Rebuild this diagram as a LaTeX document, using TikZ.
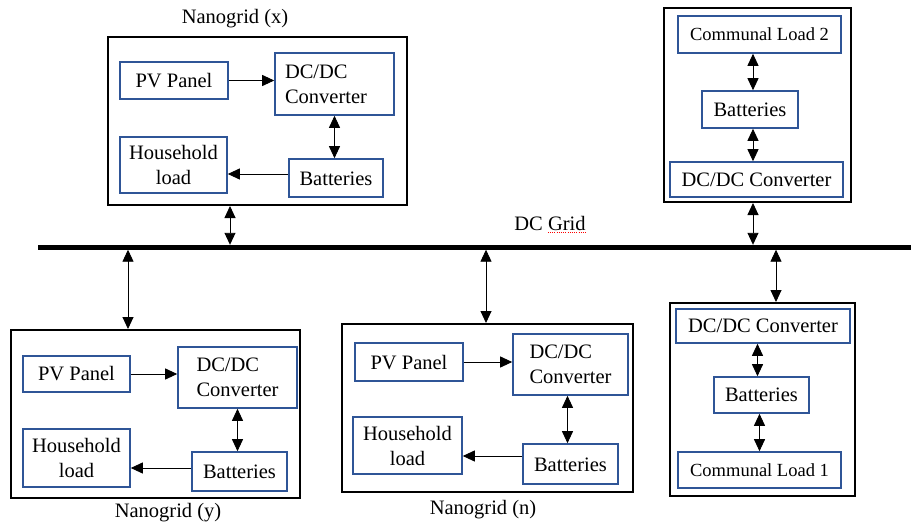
\documentclass[tikz,border=0pt]{standalone}
\usepackage{fontspec}
\setmainfont{Liberation Serif}
\usetikzlibrary{arrows.meta,fit}
\definecolor{boxblue}{RGB}{47,85,151}
% \ubox[options]{name}{x1}{y1}{x2}{y2}{text}: a blue component box spanning two corners
\newcommand\ubox[7][]{%
  \pgfmathsetmacro\ubcx{(#3+#5)/2}\pgfmathsetmacro\ubcy{(#4+#6)/2}%
  \pgfmathsetmacro\ubw{#5-#3}\pgfmathsetmacro\ubh{#6-#4}%
  \node[unit, minimum width=\ubw pt, minimum height=\ubh pt, #1] (#2) at (\ubcx,\ubcy) {#7};}
\begin{document}
\begin{tikzpicture}[x=1pt,y=-1pt,
  txt/.style={font=\fontsize{20.5}{25}\selectfont},
  smalltxt/.style={font=\fontsize{18.5}{22}\selectfont},
  label/.style={txt, inner sep=0pt},
  unit/.style={draw=boxblue, line width=1.6pt, inner sep=0pt, align=center, txt},
  lowtext/.style={text height=20pt, text depth=5pt},
  frame/.style={draw=black, line width=2pt, inner sep=0pt},
  flow/.style={-{Triangle[length=12pt,width=11pt]}, line width=0.9pt},
  both/.style={{Triangle[length=12pt,width=11pt]}-{Triangle[length=12pt,width=11pt]}, line width=0.9pt},
  spellmark/.style={draw=red, line width=0.8pt, dash pattern=on 1pt off 1.2pt},
]
\useasboundingbox (0,0) rectangle (911,527);

% outer frames
\node[frame, fit={(108,37)(407,205)}] (ngx) {};
\node[frame, fit={(11,330)(300,498)}] (ngy) {};
\node[frame, fit={(342,324)(633,492)}] (ngn) {};
\node[frame, fit={(664,8)(851,202)}] (cl2f) {};
\node[frame, fit={(670,303)(855,496)}] (cl1f) {};

% frame titles
\node[label] (lx) at (235,19) {Nanogrid (x)};
\node[label] (ly) at (168,513) {Nanogrid (y)};
\node[label] (ln) at (483,510) {Nanogrid (n)};

% DC bus
\node[fill=black, inner sep=0pt, fit={(38,245)(911,249.5)}] (grid) {};
\node[label] (dcg) at (550,223) {DC Grid};
\draw[spellmark] ([xshift=-38pt,yshift=-2.5pt]dcg.base east) -- ([yshift=-2.5pt]dcg.base east);

% Nanogrid (x)
\ubox{pvx}{120}{62}{228}{99}{PV Panel}
\ubox[text width=99pt, align=left]{dcx}{275}{53}{394}{115}{DC/DC\\Converter}
\ubox{hhx}{120}{137}{227}{193}{Household\\load}
\ubox[lowtext]{batx}{289}{159}{383}{197}{Batteries}
\draw[flow] (pvx.east) -- (pvx.east -| dcx.west);
\draw[both] (dcx.south) -- (dcx.south |- batx.north);
\draw[flow] ([yshift=4pt]batx.west) -- ([yshift=4pt]batx.west -| hhx.east);

% Nanogrid (y)
\ubox{pvy}{23}{356}{130}{392}{PV Panel}
\ubox[align=left]{dcy}{178}{347}{297}{408}{DC/DC\\Converter}
\ubox{hhy}{23}{429}{130}{487}{Household\\load}
\ubox{baty}{192}{452}{287}{491}{Batteries}
\draw[flow] (pvy.east) -- (pvy.east -| dcy.west);
\draw[both] (dcy.south) -- (dcy.south |- baty.north);
\draw[flow] ([yshift=3.5pt]baty.west) -- ([yshift=3.5pt]baty.west -| hhy.east);

% Nanogrid (n)
\ubox[lowtext]{pvn}{355}{343}{463}{381}{PV Panel}
\ubox[align=left]{dcn}{513}{334}{628}{395}{DC/DC\\Converter}
\ubox{hhn}{353}{417}{462}{474}{Household\\load}
\ubox[lowtext]{batn}{523}{444}{618}{484}{Batteries}
\draw[flow] (pvn.east) -- (pvn.east -| dcn.west);
\draw[both] ([xshift=-3pt]dcn.south) -- ([xshift=-3pt]dcn.south |- batn.north);
\draw[flow] ([yshift=8pt]batn.west) -- ([yshift=8pt]batn.west -| hhn.east);

% Communal load 2
\ubox[smalltxt]{cl2}{678}{16}{841}{53}{Communal Load 2}
\ubox{bat2}{702}{91}{798}{128}{Batteries}
\ubox{dc2}{670}{162}{843}{197}{DC/DC Converter}
\draw[both] ([xshift=3pt]bat2.north) -- ([xshift=3pt]bat2.north |- cl2.south);
\draw[both] ([xshift=3pt]bat2.south) -- ([xshift=3pt]bat2.south |- dc2.north);

% Communal load 1
\ubox{dc1}{676}{309}{850}{343}{DC/DC Converter}
\ubox{bat1}{714}{377}{809}{413}{Batteries}
\ubox[smalltxt]{cl1}{678}{452}{841}{488}{Communal Load 1}
\draw[both] ([xshift=-4pt]bat1.north) -- ([xshift=-4pt]bat1.north |- dc1.south);
\draw[both] ([xshift=-2pt]bat1.south) -- ([xshift=-2pt]bat1.south |- cl1.north);

% links to the DC bus
\coordinate (gx) at (230,0);
\coordinate (gy) at (128,0);
\coordinate (gn) at (486,0);
\coordinate (g2) at (753,0);
\coordinate (g1) at (776,0);
\draw[both] (ngx.south -| gx) -- (grid.north -| gx);
\draw[both] (grid.south -| gy) -- (ngy.north -| gy);
\draw[both] (grid.south -| gn) -- (ngn.north -| gn);
\draw[both] (cl2f.south -| g2) -- (grid.north -| g2);
\draw[both] (grid.south -| g1) -- (cl1f.north -| g1);
\end{tikzpicture}
\end{document}
